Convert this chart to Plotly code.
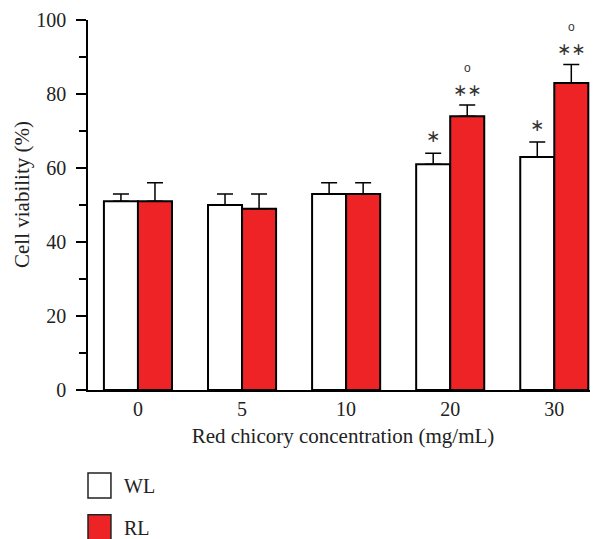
import plotly.graph_objects as go

categories = ["0", "5", "10", "20", "30"]
wl_values = [51, 50, 53, 61, 63]
wl_errors = [2, 3, 3, 3, 4]
rl_values = [51, 49, 53, 74, 83]
rl_errors = [5, 4, 3, 3, 5]
wl_marks = ["", "", "", "∗", "∗"]
rl_marks = ["", "", "", "∗∗", "∗∗"]
rl_marks2 = ["", "", "", "o", "o"]

RED = "#EE2326"
FONT = "Liberation Serif"
BW = 0.327
pos = list(range(len(categories)))

fig = go.Figure()
fig.add_trace(go.Bar(
    x=pos, y=wl_values, name="WL", offset=-BW, width=BW,
    marker=dict(color="white", line=dict(color="black", width=2)),
    error_y=dict(type="data", array=wl_errors, arrayminus=[0]*5, symmetric=False,
                 color="black", thickness=1.5, width=8),
    showlegend=False,
))
fig.add_trace(go.Bar(
    x=pos, y=rl_values, name="RL", offset=0, width=BW,
    marker=dict(color=RED, line=dict(color="black", width=2)),
    error_y=dict(type="data", array=rl_errors, arrayminus=[0]*5, symmetric=False,
                 color="black", thickness=1.5, width=8),
    showlegend=False,
))

annotations = []
for i in pos:
    if wl_marks[i]:
        annotations.append(dict(x=i - BW / 2, y=wl_values[i] + wl_errors[i], xref="x", yref="y",
                                text=wl_marks[i], showarrow=False, yshift=17,
                                font=dict(family="DejaVu Sans", size=17, color="#333")))
    if rl_marks[i]:
        annotations.append(dict(x=i + BW / 2, y=rl_values[i] + rl_errors[i], xref="x", yref="y",
                                text=rl_marks[i], showarrow=False, yshift=15,
                                font=dict(family="DejaVu Sans", size=17, color="#333")))
    if rl_marks2[i]:
        annotations.append(dict(x=i + BW / 2, y=rl_values[i] + rl_errors[i], xref="x", yref="y",
                                text=rl_marks2[i], showarrow=False, yshift=37,
                                font=dict(family="Liberation Sans", size=12, color="#333")))

# y-axis title
annotations.append(dict(xref="paper", yref="paper", x=-0.1294, y=0.527,
                        text="Cell viability (%)", textangle=-90, showarrow=False,
                        xanchor="center", yanchor="middle",
                        font=dict(family=FONT, size=21, color="#222")))

# custom legend
legend_items = [("WL", "white"), ("RL", RED)]
shapes = []
for k, (lab, col) in enumerate(legend_items):
    top = -0.224 - k * 0.113
    shapes.append(dict(type="rect", xref="paper", yref="paper", x0=0, x1=0.045,
                       y0=top, y1=top - 0.068, fillcolor=col,
                       line=dict(color="#222", width=1.5)))
    annotations.append(dict(xref="paper", yref="paper", x=0.066, y=top - 0.036,
                            text=lab, showarrow=False, xanchor="left", yanchor="middle",
                            font=dict(family=FONT, size=20, color="#222")))

fig.update_layout(
    width=598, height=539,
    margin=dict(l=80, r=8, t=12, b=157, autoexpand=False),
    paper_bgcolor="white", plot_bgcolor="white",
    barmode="overlay",
    font=dict(family=FONT, size=20, color="#222"),
    annotations=annotations, shapes=shapes,
    xaxis=dict(range=[-0.48, 4.42], tickvals=pos, ticktext=categories,
               showline=True, linecolor="black", linewidth=1.5, ticks="",
               showgrid=False, zeroline=False, automargin=False,
               title=dict(text="Red chicory concentration (mg/mL)", standoff=10,
                          font=dict(family=FONT, size=21))),
    yaxis=dict(range=[0, 100], tickvals=[0, 20, 40, 60, 80, 100],
               showline=True, linecolor="black", linewidth=1.5,
               ticks="outside", ticklen=10, tickwidth=1.5, tickcolor="black",
               minor=dict(tickvals=[10, 30, 50, 70, 90], ticks="outside", ticklen=7,
                          tickwidth=1.5, tickcolor="black"),
               showgrid=False, zeroline=False, ticklabelstandoff=6, automargin=False),
)

fig.write_html("out.html")
